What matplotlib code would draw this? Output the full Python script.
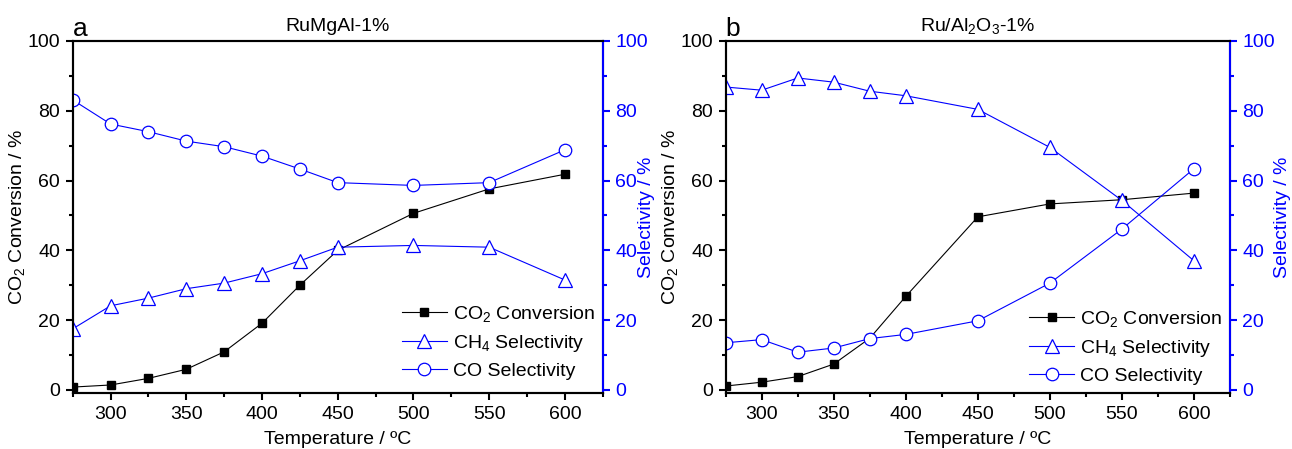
import numpy as np
import matplotlib
matplotlib.use("Agg")
import matplotlib.pyplot as plt
from matplotlib.ticker import MultipleLocator

plt.rcParams['font.family'] = ['Liberation Sans', 'DejaVu Sans']
plt.rcParams['mathtext.default'] = 'regular'

# panel a: RuMgAl-1%
temp_a = [275, 300, 325, 350, 375, 400, 425, 450, 500, 550, 600]
co2_conv_a = [0.8, 1.4, 3.3, 5.9, 10.9, 19.1, 30.0, 40.0, 50.6, 57.6, 61.8]
ch4_sel_a = [17.5, 24.1, 26.3, 29.0, 30.6, 33.3, 37.0, 40.9, 41.4, 40.9, 31.5]
co_sel_a = [83.1, 76.2, 74.0, 71.3, 69.7, 67.0, 63.3, 59.4, 58.6, 59.4, 68.8]

# panel b: Ru/Al2O3-1%
temp_b = [275, 300, 325, 350, 375, 400, 450, 500, 550, 600]
co2_conv_b = [1.1, 2.2, 3.8, 7.4, 14.8, 26.8, 49.6, 53.3, 54.5, 56.4]
ch4_sel_b = [86.8, 85.9, 89.4, 88.2, 85.6, 84.3, 80.4, 69.5, 54.3, 37.0]
co_sel_b = [13.5, 14.4, 10.8, 12.0, 14.7, 15.9, 19.8, 30.6, 46.1, 63.4]

panels = [
    ("a", "RuMgAl-1%", temp_a, co2_conv_a, ch4_sel_a, co_sel_a),
    ("b", "Ru/Al$_2$O$_3$-1%", temp_b, co2_conv_b, ch4_sel_b, co_sel_b),
]
# axes boxes in figure fraction, left/right label offsets, legend anchor y
positions = [[0.0563, 0.1247, 0.4102, 0.784], [0.5617, 0.1247, 0.3903, 0.784]]
left_lab_x = [-0.086, -0.091]
right_lab_x = [1.067, 1.087]
legend_y = [0.015, 0.0]

blue = "#0000ff"
fs = 14

fig = plt.figure(figsize=(12.92, 4.49), dpi=100)

for i, (letter, title, t, conv, ch4, co) in enumerate(panels):
    ax = fig.add_axes(positions[i])
    ax2 = ax.twinx()

    l1, = ax.plot(t, conv, color="black", lw=0.8, marker="s", ms=5.8,
                  markerfacecolor="black", label="CO$_2$ Conversion")
    l2, = ax2.plot(t, ch4, color=blue, lw=0.8, marker="^", ms=10,
                   markerfacecolor="white", markeredgewidth=0.9, label="CH$_4$ Selectivity")
    l3, = ax2.plot(t, co, color=blue, lw=0.8, marker="o", ms=9,
                   markerfacecolor="white", markeredgewidth=0.9, label="CO Selectivity")

    for a in (ax, ax2):
        a.set_xlim(275, 625)
        a.set_ylim(-0.9, 100)
        a.yaxis.set_major_locator(MultipleLocator(20))
        a.yaxis.set_minor_locator(MultipleLocator(10))
        for s in a.spines.values():
            s.set_linewidth(1.5)
    ax.set_xticks([300, 350, 400, 450, 500, 550, 600])
    ax.xaxis.set_minor_locator(MultipleLocator(25))

    ax.tick_params(which="major", direction="out", length=5, width=1.5, labelsize=fs, pad=4)
    ax.tick_params(which="minor", direction="out", length=2.8, width=1.5)
    ax2.tick_params(which="major", direction="out", length=5, width=1.5, labelsize=fs,
                    colors=blue, pad=4)
    ax2.tick_params(which="minor", direction="out", length=2.8, width=1.5, colors=blue)
    ax2.spines["right"].set_color(blue)

    ax.set_xlabel("Temperature / ºC", fontsize=fs, labelpad=6)
    ax.set_ylabel("CO$_2$ Conversion / %", fontsize=fs)
    ax.yaxis.set_label_coords(left_lab_x[i], 0.5)
    ax2.set_ylabel("Selectivity / %", fontsize=fs, color=blue)
    ax2.yaxis.set_label_coords(right_lab_x[i], 0.5)

    ax.set_title(title, fontsize=fs, pad=7)
    ax.text(0.0, 1.0, letter, transform=ax.transAxes, fontsize=19,
            ha="left", va="bottom")

    ax2.legend([l1, l2, l3], [l.get_label() for l in (l1, l2, l3)],
               loc="lower right", bbox_to_anchor=(1.0, legend_y[i]),
               frameon=False, fontsize=fs, borderaxespad=0,
               handlelength=2.3, handletextpad=0.3, labelspacing=0.45)

fig.savefig("out.png", dpi=100)
